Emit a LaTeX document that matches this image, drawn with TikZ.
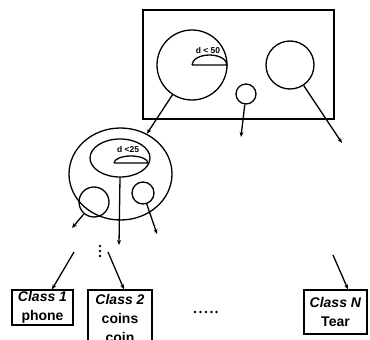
\documentclass[tikz,border=0pt]{standalone}
\usepackage{fontspec}
\setmainfont{Liberation Sans}
\usetikzlibrary{arrows.meta,shapes.geometric}
\begin{document}
\begin{tikzpicture}[x=1pt,y=-1pt,line width=1.3pt,
  arr/.style={-{Stealth[length=5pt,width=4pt]}},
  circ/.style={draw,circle,inner sep=0pt},
  ell/.style={draw,ellipse,inner sep=0pt},
  dotmark/.style={fill,circle,inner sep=0pt,minimum size=2.6pt},
  classbox/.style={draw,rectangle,inner sep=0pt,align=center,font=\fontsize{14}{19}\selectfont\bfseries},
  small/.style={font=\fontsize{8.5}{9}\selectfont\bfseries,inner sep=0pt}]
\useasboundingbox (0,0) rectangle (370,340);
% top rectangle
\node[draw,rectangle,inner sep=0pt,minimum width=191pt,minimum height=109pt] (top) at (238.5,64.5) {};
\node[circ,minimum size=70pt] (bigc) at (192,65) {};
\node[circ,minimum size=20pt] (smc) at (246,94) {};
\node[circ,minimum size=48pt] (rc) at (290,65) {};
\draw (192,65) -- (227,65) arc[start angle=0,end angle=-180,x radius=17.5,y radius=10];
\node[small] (t50) at (208,50) {d < 50};
% second level
\node[ell,minimum width=103pt,minimum height=92pt] (outer) at (120.5,174) {};
\node[ell,minimum width=60pt,minimum height=38pt] (inner) at (120,158) {};
\draw (114,163) -- (148,163) arc[start angle=0,end angle=-180,x radius=17,y radius=7];
\node[small] (t25) at (128,149) {d <25};
\node[circ,minimum size=30pt] (lc) at (94,202) {};
\node[circ,minimum size=22pt] (rsc) at (143,193) {};
% arrow end points
\coordinate (e1) at (241,137);
\coordinate (e2) at (342,143);
\coordinate (e3) at (72,228);
\coordinate (e4) at (119,245);
\coordinate (e5) at (157,234);
\coordinate (s1) at (74,252);
\coordinate (s2) at (108,252);
\coordinate (s3) at (333,255);
% arrows
\draw[arr] (bigc) -- (outer);
\draw[arr] (smc) -- (e1);
\draw[arr] (rc) -- (e2);
\draw[arr] (lc) -- (e3);
\draw[arr] (inner.south) -- (e4);
\draw[arr] (rsc) -- (e5);
% dots
\foreach \yy [count=\i] in {246,251,256} \node[dotmark] (vd\i) at (100,\yy) {};
\foreach \xx [count=\i] in {195,200.5,206,211.5,216.5} \node[dotmark] (hd\i) at (\xx,312) {};
% boxes
\node[classbox,minimum width=61pt,minimum height=35pt] (b1) at (42.5,307.5) {\textit{Class 1}\\phone};
\node[classbox,minimum width=64pt,minimum height=56pt] (b2) at (120,318) {\textit{Class 2}\\coins\\coin};
\node[classbox,minimum width=63pt,minimum height=44pt] (bN) at (335.5,312) {\textit{Class N}\\Tear};
\draw[arr] (s1) -- ([xshift=9.5pt]b1.north);
\draw[arr] (s2) -- ([xshift=4pt]b2.north);
\draw[arr] (s3) -- ([xshift=12.5pt]bN.north);
\end{tikzpicture}
\end{document}
